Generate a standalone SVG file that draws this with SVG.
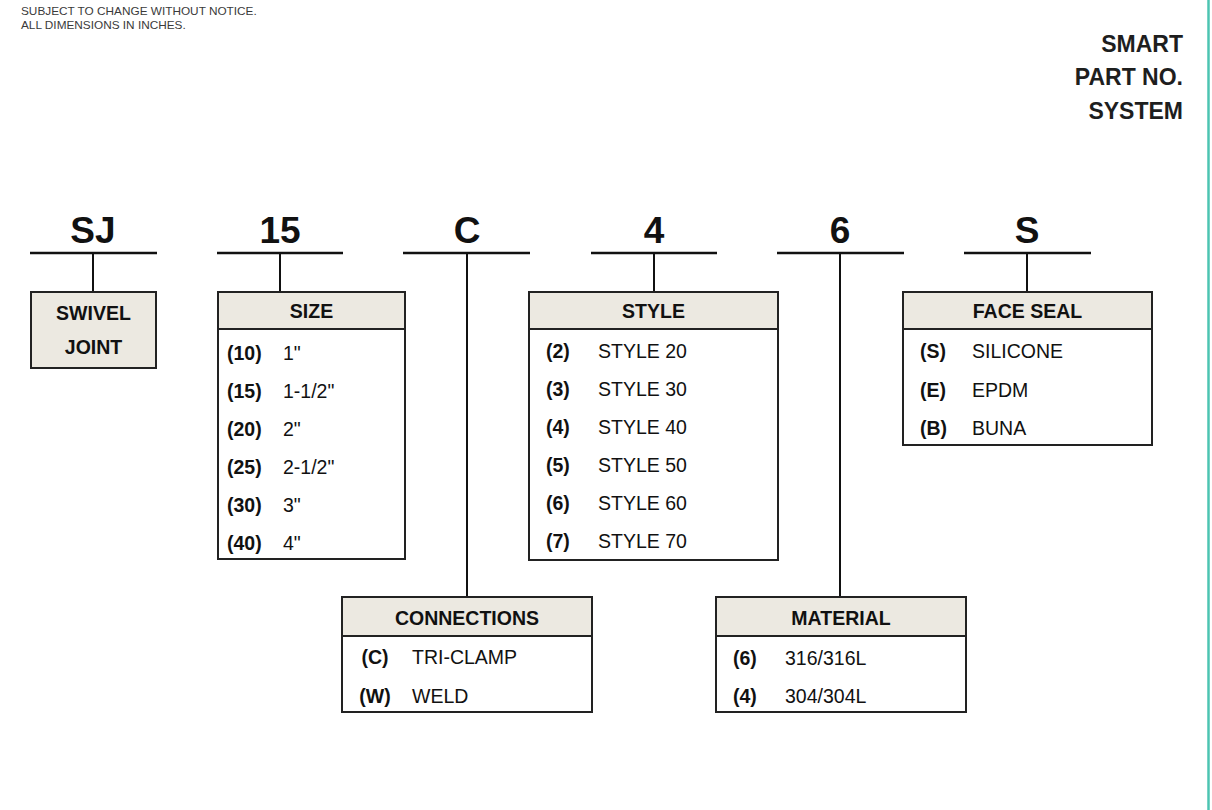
<svg xmlns="http://www.w3.org/2000/svg" width="1212" height="810" viewBox="0 0 1212 810">
<style>
  .note{font-family:"Liberation Sans",Arial,sans-serif;font-size:11.8px;fill:#3a3a3a}
  .title{font-family:"Liberation Sans",Arial,sans-serif;font-size:23px;font-weight:bold;fill:#1e1e1e;text-anchor:end}
  .code{font-family:"Liberation Sans",Arial,sans-serif;font-size:37px;font-weight:bold;fill:#111;text-anchor:middle}
  .hdr{font-family:"Liberation Sans",Arial,sans-serif;font-size:19.5px;font-weight:bold;fill:#111;text-anchor:middle}
  .key{font-family:"Liberation Sans",Arial,sans-serif;font-size:19.5px;font-weight:bold;fill:#111}
  .val{font-family:"Liberation Sans",Arial,sans-serif;font-size:19.5px;fill:#111}
  .bar{stroke:#111;stroke-width:2.5;fill:none}
  .stem{stroke:#111;stroke-width:2;fill:none}
  .box{fill:#fff;stroke:#222;stroke-width:2}
  .head{fill:#ece9e1;stroke:#222;stroke-width:2}
</style>
<rect x="0" y="0" width="1212" height="810" fill="#fff"/>
<line x1="1208.5" y1="0" x2="1208.5" y2="810" stroke="#4cc4b2" stroke-width="2.5"/>

<g id="note">
  <text class="note" x="21" y="15">SUBJECT TO CHANGE WITHOUT NOTICE.</text>
  <text class="note" x="21" y="29">ALL DIMENSIONS IN INCHES.</text>
</g>
<g id="title">
  <text class="title" x="1183" y="52">SMART</text>
  <text class="title" x="1183" y="85">PART NO.</text>
  <text class="title" x="1183" y="119">SYSTEM</text>
</g>

<g id="codes">
  <text class="code" x="93" y="243">SJ</text>
  <text class="code" x="280" y="243">15</text>
  <text class="code" x="467" y="243">C</text>
  <text class="code" x="654" y="243">4</text>
  <text class="code" x="840" y="243">6</text>
  <text class="code" x="1027" y="243">S</text>
</g>

<g id="connectors">
  <line class="bar" x1="30" y1="253" x2="157" y2="253"/>
  <line class="bar" x1="217" y1="253" x2="343" y2="253"/>
  <line class="bar" x1="403" y1="253" x2="530" y2="253"/>
  <line class="bar" x1="591" y1="253" x2="717" y2="253"/>
  <line class="bar" x1="777" y1="253" x2="904" y2="253"/>
  <line class="bar" x1="964" y1="253" x2="1091" y2="253"/>
  <line class="stem" x1="93" y1="253" x2="93" y2="292"/>
  <line class="stem" x1="280" y1="253" x2="280" y2="292"/>
  <line class="stem" x1="467" y1="253" x2="467" y2="597"/>
  <line class="stem" x1="654" y1="253" x2="654" y2="292"/>
  <line class="stem" x1="840" y1="253" x2="840" y2="597"/>
  <line class="stem" x1="1027" y1="253" x2="1027" y2="292"/>
</g>

<g id="swivel-joint">
  <rect class="head" x="31" y="292" width="125" height="76"/>
  <text class="hdr" x="93.5" y="320">SWIVEL</text>
  <text class="hdr" x="93.5" y="354">JOINT</text>
</g>

<g id="size">
  <rect class="box" x="218" y="292" width="187" height="267"/>
  <rect class="head" x="218" y="292" width="187" height="37"/>
  <text class="hdr" x="311.5" y="318">SIZE</text>
  <text class="key" x="227" y="360">(10)</text><text class="val" x="283" y="360">1"</text>
  <text class="key" x="227" y="398">(15)</text><text class="val" x="283" y="398">1-1/2"</text>
  <text class="key" x="227" y="436">(20)</text><text class="val" x="283" y="436">2"</text>
  <text class="key" x="227" y="474">(25)</text><text class="val" x="283" y="474">2-1/2"</text>
  <text class="key" x="227" y="512">(30)</text><text class="val" x="283" y="512">3"</text>
  <text class="key" x="227" y="550">(40)</text><text class="val" x="283" y="550">4"</text>
</g>

<g id="style">
  <rect class="box" x="529" y="292" width="249" height="268"/>
  <rect class="head" x="529" y="292" width="249" height="37"/>
  <text class="hdr" x="653.5" y="318">STYLE</text>
  <text class="key" x="546" y="358">(2)</text><text class="val" x="598" y="358">STYLE 20</text>
  <text class="key" x="546" y="396">(3)</text><text class="val" x="598" y="396">STYLE 30</text>
  <text class="key" x="546" y="434">(4)</text><text class="val" x="598" y="434">STYLE 40</text>
  <text class="key" x="546" y="472">(5)</text><text class="val" x="598" y="472">STYLE 50</text>
  <text class="key" x="546" y="510">(6)</text><text class="val" x="598" y="510">STYLE 60</text>
  <text class="key" x="546" y="548">(7)</text><text class="val" x="598" y="548">STYLE 70</text>
</g>

<g id="face-seal">
  <rect class="box" x="903" y="292" width="249" height="153"/>
  <rect class="head" x="903" y="292" width="249" height="37"/>
  <text class="hdr" x="1027.5" y="318">FACE SEAL</text>
  <text class="key" x="920" y="358">(S)</text><text class="val" x="972" y="358">SILICONE</text>
  <text class="key" x="920" y="397">(E)</text><text class="val" x="972" y="397">EPDM</text>
  <text class="key" x="920" y="435">(B)</text><text class="val" x="972" y="435">BUNA</text>
</g>

<g id="connections">
  <rect class="box" x="342" y="597" width="250" height="115"/>
  <rect class="head" x="342" y="597" width="250" height="39"/>
  <text class="hdr" x="467" y="625">CONNECTIONS</text>
  <text class="key" x="375" y="664" text-anchor="middle">(C)</text><text class="val" x="412" y="664">TRI-CLAMP</text>
  <text class="key" x="375" y="703" text-anchor="middle">(W)</text><text class="val" x="412" y="703">WELD</text>
</g>

<g id="material">
  <rect class="box" x="716" y="597" width="250" height="115"/>
  <rect class="head" x="716" y="597" width="250" height="39"/>
  <text class="hdr" x="841" y="625">MATERIAL</text>
  <text class="key" x="733" y="665">(6)</text><text class="val" x="785" y="665">316/316L</text>
  <text class="key" x="733" y="703">(4)</text><text class="val" x="785" y="703">304/304L</text>
</g>
</svg>
